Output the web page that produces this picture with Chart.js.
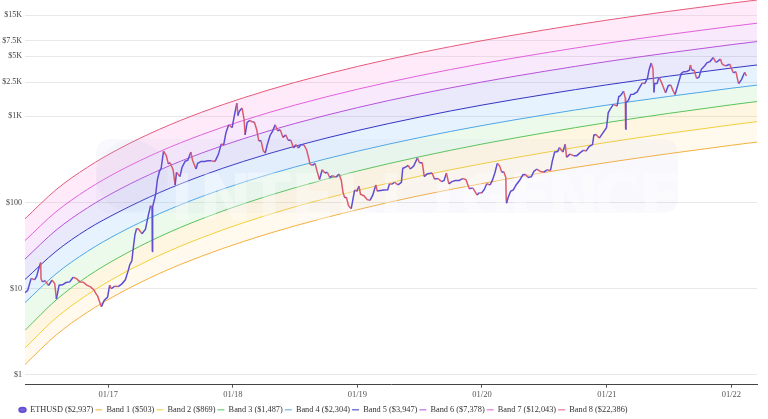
<!DOCTYPE html>
<html>
<head>
<meta charset="utf-8">
<script src="https://cdn.jsdelivr.net/npm/chart.js@4.4.1/dist/chart.umd.min.js"></script>
<style>
html, body { margin: 0; padding: 0; background: #fff; }
#wrap { width: 768px; height: 419px; }
</style>
</head>
<body>
<div id="wrap"><canvas id="rainbow"></canvas></div>
<script>
// axis ticks
const yTickValues = [1, 10, 100, 1000, 2500, 5000, 7500, 15000];
const yTickLabels = ['$1', '$10', '$100', '$1K', '$2.5K', '$5K', '$7.5K', '$15K'];
const xTickDates = ['2017-01-01', '2018-01-01', '2019-01-01', '2020-01-01', '2021-01-01', '2022-01-01'];
const xTickLabels = ['01/17', '01/18', '01/19', '01/20', '01/21', '01/22'];

// rainbow bands at a few dates
const bandDates = ['2016-05-02', '2016-08-01', '2016-11-01', '2017-02-01', '2017-06-01', '2017-10-01',
  '2018-02-01', '2018-07-01', '2019-01-01', '2019-07-01', '2020-01-01', '2020-07-01',
  '2021-01-01', '2021-07-01', '2022-01-01', '2022-03-17'];
const band1 = [1.32, 2.9, 5.34, 8.78, 15.1, 23.8, 35.3, 53.5, 82.6, 120, 166, 223, 291, 369, 462, 503];
const band2 = [2.06, 4.59, 8.54, 14.2, 24.5, 39.0, 58.3, 89.0, 138, 202, 282, 379, 498, 635, 797, 869];
const band3 = [3.29, 7.4, 13.9, 23.1, 40.3, 64.5, 96.7, 148, 232, 339, 477, 643, 847, 1082, 1363, 1487];
const band4 = [6.9, 14.9, 27.1, 44.1, 74.6, 117, 172, 258, 394, 566, 782, 1038, 1350, 1703, 2121, 2304];
const band5 = [12.8, 27.2, 49.0, 77.9, 131, 204, 300, 449, 684, 979, 1351, 1789, 2321, 2924, 3636, 3947];
const band6 = [22.1, 47.8, 86.8, 141, 239, 374, 550, 825, 1263, 1813, 2504, 3325, 4322, 5454, 6792, 7378];
const band7 = [36.2, 78.2, 142, 231, 391, 611, 898, 1348, 2063, 2959, 4089, 5429, 7054, 8901, 11085, 12043];
const band8 = [64.9, 141, 257, 419, 711, 1114, 1642, 2472, 3792, 5452, 7551, 10041, 13072, 16520, 20597, 22386];

// ETHUSD
const priceDates = [
  '2016-05-02','2016-05-10','2016-05-20','2016-05-30','2016-06-05','2016-06-12','2016-06-17','2016-06-18','2016-06-22','2016-06-30',
  '2016-07-10','2016-07-20','2016-07-28','2016-08-02','2016-08-10','2016-08-20','2016-08-30','2016-09-10','2016-09-20','2016-09-30',
  '2016-10-10','2016-10-20','2016-10-30','2016-11-10','2016-11-20','2016-11-25','2016-12-01','2016-12-08','2016-12-12','2016-12-20','2016-12-30',
  '2017-01-05','2017-01-10','2017-01-20','2017-01-30','2017-02-10','2017-02-20','2017-02-28','2017-03-05','2017-03-11','2017-03-15',
  '2017-03-20','2017-03-25','2017-03-31','2017-04-10','2017-04-20','2017-04-28','2017-05-05','2017-05-09','2017-05-10','2017-05-11',
  '2017-05-20','2017-05-25','2017-05-31','2017-06-05','2017-06-12','2017-06-20','2017-06-26','2017-07-01','2017-07-10','2017-07-16',
  '2017-07-20','2017-07-30','2017-08-05','2017-08-14','2017-08-22','2017-08-31','2017-09-05','2017-09-15','2017-09-20','2017-09-30',
  '2017-10-10','2017-10-20','2017-10-30','2017-11-10','2017-11-20','2017-11-28','2017-12-05','2017-12-12','2017-12-20','2017-12-30',
  '2018-01-05','2018-01-10','2018-01-13','2018-01-16','2018-01-20','2018-01-28','2018-02-03','2018-02-06','2018-02-12','2018-02-20',
  '2018-02-28','2018-03-05','2018-03-12','2018-03-18','2018-03-25','2018-03-31','2018-04-06','2018-04-12','2018-04-20','2018-04-28',
  '2018-05-05','2018-05-12','2018-05-20','2018-05-28','2018-06-05','2018-06-12','2018-06-20','2018-06-28','2018-07-05','2018-07-12',
  '2018-07-20','2018-07-28','2018-08-05','2018-08-12','2018-08-15','2018-08-22','2018-08-30','2018-09-05','2018-09-12','2018-09-20',
  '2018-09-28','2018-10-05','2018-10-12','2018-10-20','2018-10-30','2018-11-08','2018-11-15','2018-11-20','2018-11-25','2018-11-30',
  '2018-12-06','2018-12-14','2018-12-20','2018-12-24','2018-12-30',
  '2019-01-06','2019-01-10','2019-01-20','2019-01-30','2019-02-07','2019-02-15','2019-02-24','2019-02-28','2019-03-10','2019-03-20',
  '2019-03-31','2019-04-05','2019-04-12','2019-04-20','2019-04-30','2019-05-10','2019-05-14','2019-05-20','2019-05-30','2019-06-05',
  '2019-06-15','2019-06-26','2019-07-02','2019-07-10','2019-07-16','2019-07-24','2019-07-31','2019-08-08','2019-08-15','2019-08-25',
  '2019-09-05','2019-09-12','2019-09-19','2019-09-26','2019-10-05','2019-10-15','2019-10-26','2019-11-05','2019-11-15','2019-11-25',
  '2019-12-05','2019-12-18','2019-12-24','2019-12-31',
  '2020-01-08','2020-01-15','2020-01-25','2020-02-01','2020-02-08','2020-02-15','2020-02-22','2020-02-28','2020-03-05','2020-03-11',
  '2020-03-12','2020-03-13','2020-03-18','2020-03-25','2020-04-02','2020-04-10','2020-04-20','2020-04-30','2020-05-08','2020-05-15',
  '2020-05-25','2020-06-01','2020-06-10','2020-06-20','2020-06-30','2020-07-10','2020-07-20','2020-07-25','2020-08-01','2020-08-10',
  '2020-08-15','2020-08-25','2020-09-01','2020-09-05','2020-09-15','2020-09-25','2020-10-05','2020-10-15','2020-10-25','2020-11-01',
  '2020-11-10','2020-11-20','2020-11-24','2020-11-30','2020-12-10','2020-12-20','2020-12-31',
  '2021-01-05','2021-01-10','2021-01-20','2021-01-31','2021-02-05','2021-02-10','2021-02-19','2021-02-24','2021-02-25','2021-02-26',
  '2021-03-05','2021-03-12','2021-03-20','2021-03-31','2021-04-05','2021-04-15','2021-04-22','2021-04-30','2021-05-05','2021-05-11',
  '2021-05-16','2021-05-19','2021-05-21','2021-05-28','2021-06-03','2021-06-10','2021-06-22','2021-06-30','2021-07-07','2021-07-14',
  '2021-07-20','2021-07-31','2021-08-07','2021-08-14','2021-08-23','2021-08-31','2021-09-03','2021-09-07','2021-09-14','2021-09-21',
  '2021-09-28','2021-10-05','2021-10-15','2021-10-21','2021-10-30','2021-11-09','2021-11-16','2021-11-21','2021-11-30','2021-12-04',
  '2021-12-10','2021-12-17','2021-12-27','2021-12-31',
  '2022-01-07','2022-01-14','2022-01-22','2022-01-24','2022-01-31','2022-02-05','2022-02-09','2022-02-14'
];
const priceValues = [
  9.0, 9.6, 13.2, 12.7, 13.9, 17.5, 20.2, 13.0, 12.0, 12.4,
  10.9, 12.6, 11.5, 7.6, 11.0, 11.1, 11.8, 12.0, 13.6, 13.1,
  12.0, 11.9, 11.0, 10.5, 9.7, 8.9, 8.2, 6.8, 6.2, 7.3, 8.0,
  11.0, 10.0, 10.7, 10.6, 11.4, 12.7, 16.0, 19.0, 21.0, 29.0,
  42.0, 50.0, 49.0, 43.5, 49.0, 70.0, 92.0, 88.0, 27.0, 89.0,
  125, 185, 230, 250, 395, 350, 280, 290, 240, 160,
  225, 200, 255, 300, 310, 385, 310, 245, 285, 300,
  300, 305, 305, 300, 365, 480, 465, 650, 800, 740,
  1000, 1250, 1420, 1020, 1150, 1250, 920, 610, 850, 900,
  860, 860, 700, 520, 520, 400, 375, 470, 600, 680,
  800, 680, 700, 570, 610, 530, 530, 430, 470, 430,
  470, 470, 410, 320, 280, 270, 285, 230, 185, 240,
  220, 225, 195, 205, 197, 215, 180, 130, 114, 115,
  92, 85, 115, 140, 135,
  155, 125, 120, 108, 106, 122, 160, 136, 138, 140,
  141, 165, 163, 172, 160, 172, 250, 255, 270, 245,
  265, 330, 290, 290, 200, 215, 218, 220, 187, 190,
  175, 180, 220, 165, 175, 180, 180, 190, 185, 145,
  148, 122, 130, 129,
  142, 165, 160, 183, 222, 285, 265, 225, 228, 195,
  112, 98, 115, 135, 140, 160, 180, 210, 212, 195,
  200, 230, 245, 230, 226, 240, 236, 300, 385, 390,
  435, 385, 475, 335, 365, 350, 350, 380, 405, 395,
  445, 470, 605, 615, 560, 640, 737,
  1100, 1200, 1380, 1315, 1700, 1740, 1960, 1630, 710, 1450,
  1530, 1800, 1810, 1920, 2100, 2440, 2400, 2770, 3500, 4170,
  3600, 1900, 2400, 2400, 2850, 2480, 1880, 2270, 2320, 1990,
  1790, 2530, 3150, 3300, 3320, 3430, 3940, 3430, 3430, 2760,
  2850, 3520, 3870, 4170, 4320, 4810, 4250, 4310, 4630, 4100,
  3910, 3870, 4040, 3680,
  3200, 3300, 2400, 2450, 2690, 3000, 3240, 2937
];

const bandColors = ['#f5b041', '#f2d03a', '#58c45a', '#4ea6e6', '#3436c2', '#b652d9', '#e260dc', '#e65a7c'];
const bandFills = [
  'rgba(0,0,0,0)',
  'rgba(255, 205, 120, 0.13)',
  'rgba(255, 210, 110, 0.20)',
  'rgba(140, 225, 140, 0.17)',
  'rgba(130, 195, 250, 0.20)',
  'rgba(150, 140, 235, 0.20)',
  'rgba(220, 150, 240, 0.20)',
  'rgba(250, 160, 225, 0.22)'
];
const upColor = '#5d4ed3';
const downColor = '#dc5a6e';
const fontFamily = '"Liberation Serif", "Times New Roman", serif';

const toTime = d => Date.parse(d);
const money = v => '$' + v.toLocaleString('en-US');

const bands = [band1, band2, band3, band4, band5, band6, band7, band8];

const datasets = [{
  label: 'ETHUSD (' + money(priceValues[priceValues.length - 1]) + ')',
  data: priceDates.map((d, i) => ({ x: toTime(d), y: priceValues[i] })),
  borderColor: upColor,
  backgroundColor: '#7d5fd8',
  borderWidth: 1.5,
  pointRadius: 0,
  pointStyle: 'circle',
  tension: 0,
  fill: false,
  segment: {
    borderColor: c => c.p1.parsed.y < c.p0.parsed.y ? downColor : upColor
  }
}];

bands.forEach((vals, i) => {
  datasets.push({
    label: 'Band ' + (i + 1) + ' (' + money(vals[vals.length - 1]) + ')',
    data: bandDates.map((d, j) => ({ x: toTime(d), y: vals[j] })),
    borderColor: bandColors[i],
    backgroundColor: bandFills[i],
    borderWidth: 1,
    pointRadius: 0,
    pointStyle: 'line',
    cubicInterpolationMode: 'monotone',
    fill: i === 0 ? false : '-1'
  });
});

// faint logo in the back, over the bands but under the price
const watermark = {
  id: 'watermark',
  afterDatasetDraw(chart, args) {
    if (args.index !== 1) return;
    const ctx = chart.ctx;
    ctx.save();
    ctx.fillStyle = 'rgba(165, 165, 225, 0.07)';
    ctx.beginPath();
    ctx.roundRect(96, 139, 582, 74, 14);
    ctx.fill();
    ctx.beginPath();
    ctx.arc(132, 176, 36, 0, Math.PI * 2);
    ctx.fill();
    ctx.font = 'bold 64px "DejaVu Sans"';
    ctx.textAlign = 'center';
    ctx.fillStyle = 'rgba(255, 255, 255, 0.35)';
    const word = 'INTELLIGENCE';
    for (let i = 0; i < word.length; i++) {
      ctx.fillText(word[i], 182 + i * 43.5, 203);
    }
    ctx.restore();
  }
};

// legend sits a little lower and further in than chart.js puts it
const legendShift = {
  id: 'legendShift',
  afterLayout(chart) {
    if (!chart.legend) return;
    chart.legend.left = 17;
    chart.legend.top += 5;
  }
};

new Chart(document.getElementById('rainbow'), {
  type: 'line',
  data: { datasets: datasets },
  options: {
    responsive: true,
    maintainAspectRatio: false,
    animation: false,
    events: [],
    layout: { padding: { left: 0, right: 11, top: 0, bottom: 0 } },
    scales: {
      x: {
        type: 'linear',
        bounds: 'data',
        min: toTime('2016-05-02'),
        max: toTime('2022-03-17'),
        afterBuildTicks: s => { s.ticks = xTickDates.map(d => ({ value: toTime(d) })); },
        afterFit: s => { s.height = 14; },
        grid: { drawOnChartArea: false, drawTicks: true, tickLength: 3, color: '#555' },
        border: { color: '#444', width: 1 },
        ticks: {
          autoSkip: false,
          maxRotation: 0,
          padding: 2,
          color: '#555',
          font: { family: fontFamily, size: 8.5 },
          callback: (v, i) => xTickLabels[i]
        }
      },
      y: {
        type: 'logarithmic',
        bounds: 'data',
        min: 0.77,
        max: 22400,
        afterBuildTicks: s => { s.ticks = yTickValues.map(v => ({ value: v })); },
        afterFit: s => { s.width = 25; s.paddingTop = 0; s.paddingBottom = 0; },
        grid: { color: '#e8e8e8', drawTicks: false },
        border: { display: false },
        ticks: {
          autoSkip: false,
          padding: 3,
          color: '#444',
          font: { family: fontFamily, size: 8 },
          callback: v => yTickLabels[yTickValues.indexOf(v)]
        }
      }
    },
    plugins: {
      tooltip: { enabled: false },
      legend: {
        position: 'bottom',
        align: 'start',
        maxHeight: 22,
        labels: {
          color: '#333',
          font: { family: fontFamily, size: 8.3 },
          usePointStyle: true,
          pointStyleWidth: 7,
          boxWidth: 7,
          boxHeight: 3.5,
          padding: 2
        }
      }
    }
  },
  plugins: [watermark, legendShift]
});
</script>
</body>
</html>
